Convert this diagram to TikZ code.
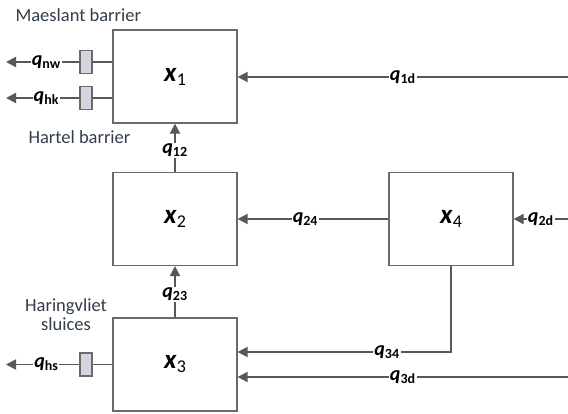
\documentclass[tikz,border=0pt]{standalone}
\usepackage{fontspec}
\setmainfont{Carlito}
\usetikzlibrary{arrows.meta}
\definecolor{linegray}{HTML}{585858}
\definecolor{boxgray}{HTML}{6A6A6A}
\definecolor{gatefill}{HTML}{D3D5DF}
\definecolor{txtblue}{HTML}{323C4B}
\newcommand\qflow[1]{\textbf{\textit{q}}\textsubscript{\textbf{#1}}}
\newcommand\xstate[1]{\textbf{\textit{x}}\raisebox{-4pt}{\fontsize{18}{20}\selectfont #1}}
\tikzset{
  blk/.style={draw=boxgray, line width=1.2pt, minimum width=124pt, minimum height=93pt, fill=white,
    font=\fontsize{27}{30}\selectfont},
  gate/.style={draw=boxgray, line width=1.2pt, fill=gatefill, minimum width=12pt, minimum height=23pt, inner sep=0pt},
  flow/.style={draw=linegray, line width=1.8pt, -{Triangle[length=10pt,width=10pt]}},
  plain/.style={draw=linegray, line width=1.8pt},
  lbl/.style={fill=white, inner sep=1pt, font=\fontsize{20}{22}\selectfont},
  place/.style={text=txtblue, font=\fontsize{18.5}{21}\selectfont, align=center}
}
\begin{document}
\begin{tikzpicture}[x=1pt,y=-1pt]
\useasboundingbox (0,0) rectangle (568,414);
% reservoirs
\node[blk] (x1) at (175,76.5) {\xstate{1}};
\node[blk] (x2) at (175,219) {\xstate{2}};
\node[blk] (x3) at (175,364.5) {\xstate{3}};
\node[blk] (x4) at (451,219) {\xstate{4}};
% barriers
\node[gate] (gnw) at (86,62) {};
\node[gate] (ghk) at (86,98) {};
\node[gate] (ghs) at (86,364.5) {};
\node[place, anchor=west] (maes) at (12,15) {Maeslant barrier};
\node[place, anchor=west] (hart) at (25,137) {Hartel barrier};
\node[place] (hari) at (66,315) {Haringvliet\\[-2pt]sluices};
% free ends
\coordinate (onw) at (6,62);
\coordinate (ohk) at (6,98);
\coordinate (ohs) at (6,364.5);
\coordinate (i1d) at (568,77);
\coordinate (i2d) at (568,219);
\coordinate (i3d) at (568,377);
\coordinate (in34) at (237.6,352);
\coordinate (in3d) at (237.6,377);
% outflows
\draw[plain] (x1.west |- gnw) -- (gnw);
\draw[flow] (gnw) -- node[lbl, pos=0.45] (lnw) {\qflow{nw}} (onw);
\draw[plain] (x1.west |- ghk) -- (ghk);
\draw[flow] (ghk) -- node[lbl, pos=0.45] (lhk) {\qflow{hk}} (ohk);
\draw[plain] (x3.west |- ghs) -- (ghs);
\draw[flow] (ghs) -- node[lbl, pos=0.45] (lhs) {\qflow{hs}} (ohs);
% inflows
\draw[flow] (i1d) -- node[lbl] (l1d) {\qflow{1d}} (x1.east |- i1d);
\draw[flow] (i2d) -- node[lbl] (l2d) {\qflow{2d}} (x4.east);
\draw[flow] (x4.west) -- node[lbl, pos=0.55] (l24) {\qflow{24}} (x2.east);
\draw[flow] (x4.south) |- node[lbl, pos=0.65] (l34) {\qflow{34}} (in34);
\draw[flow] (i3d) -- node[lbl] (l3d) {\qflow{3d}} (in3d);
\draw[flow] (x2.north) -- node[lbl, pos=0.45] (l12) {\qflow{12}} (x1.south);
\draw[flow] (x3.north) -- node[lbl, pos=0.45] (l23) {\qflow{23}} (x2.south);
\end{tikzpicture}
\end{document}
